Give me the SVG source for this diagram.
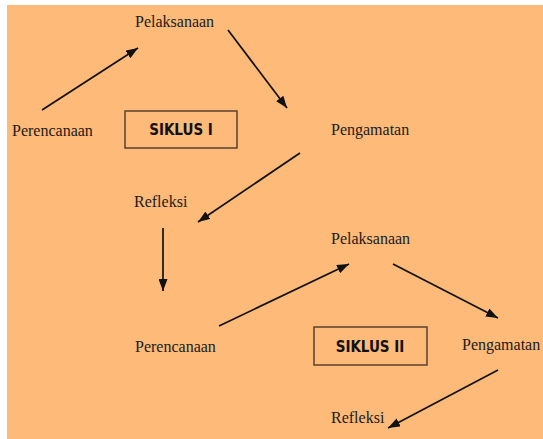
<svg xmlns="http://www.w3.org/2000/svg" width="543" height="439" viewBox="0 0 543 439">
<style>
.lbl{font-family:"Liberation Serif","Times New Roman",serif;font-size:16px;fill:#1a1a1a}
.box{fill:none;stroke:#5a4030;stroke-width:1.5}
.bt{font-family:"DejaVu Sans Condensed","DejaVu Sans",sans-serif;font-weight:bold;font-size:15px;fill:#111;text-anchor:middle}
.c{stroke:#111;stroke-width:1.7;fill:none;marker-end:url(#ah)}
</style>
<defs>
<marker id="ah" viewBox="0 0 12 9" refX="12" refY="4.5" markerWidth="12" markerHeight="9" markerUnits="userSpaceOnUse" orient="auto">
<path d="M0,0 L12,4.5 L0,9 z" fill="#111"/>
</marker>
</defs>
<rect width="543" height="439" fill="#ffffff"/>
<rect x="7" y="5" width="536" height="434" fill="#FDBA79"/>
<g id="connectors">
<line class="c" x1="42" y1="110" x2="138" y2="48"/>
<line class="c" x1="228" y1="30" x2="287" y2="108"/>
<line class="c" x1="300" y1="153" x2="198" y2="222"/>
<line class="c" x1="163" y1="228" x2="163" y2="291"/>
<line class="c" x1="219" y1="326" x2="349" y2="264"/>
<line class="c" x1="393" y1="264" x2="498" y2="318"/>
<line class="c" x1="498" y1="370" x2="388" y2="428"/>
</g>
<g id="pelaksanaan1"><text class="lbl" x="135" y="27">Pelaksanaan</text></g>
<g id="perencanaan1"><text class="lbl" x="12" y="136">Perencanaan</text></g>
<g id="siklus1"><rect class="box" x="125" y="111" width="112" height="37"/><text class="bt" x="181" y="135">SIKLUS I</text></g>
<g id="pengamatan1"><text class="lbl" x="331" y="135">Pengamatan</text></g>
<g id="refleksi1"><text class="lbl" x="134" y="207">Refleksi</text></g>
<g id="pelaksanaan2"><text class="lbl" x="331" y="244">Pelaksanaan</text></g>
<g id="perencanaan2"><text class="lbl" x="135" y="352">Perencanaan</text></g>
<g id="siklus2"><rect class="box" x="314" y="327" width="113" height="38"/><text class="bt" x="370" y="352">SIKLUS II</text></g>
<g id="pengamatan2"><text class="lbl" x="462" y="350">Pengamatan</text></g>
<g id="refleksi2"><text class="lbl" x="331" y="423">Refleksi</text></g>
</svg>
